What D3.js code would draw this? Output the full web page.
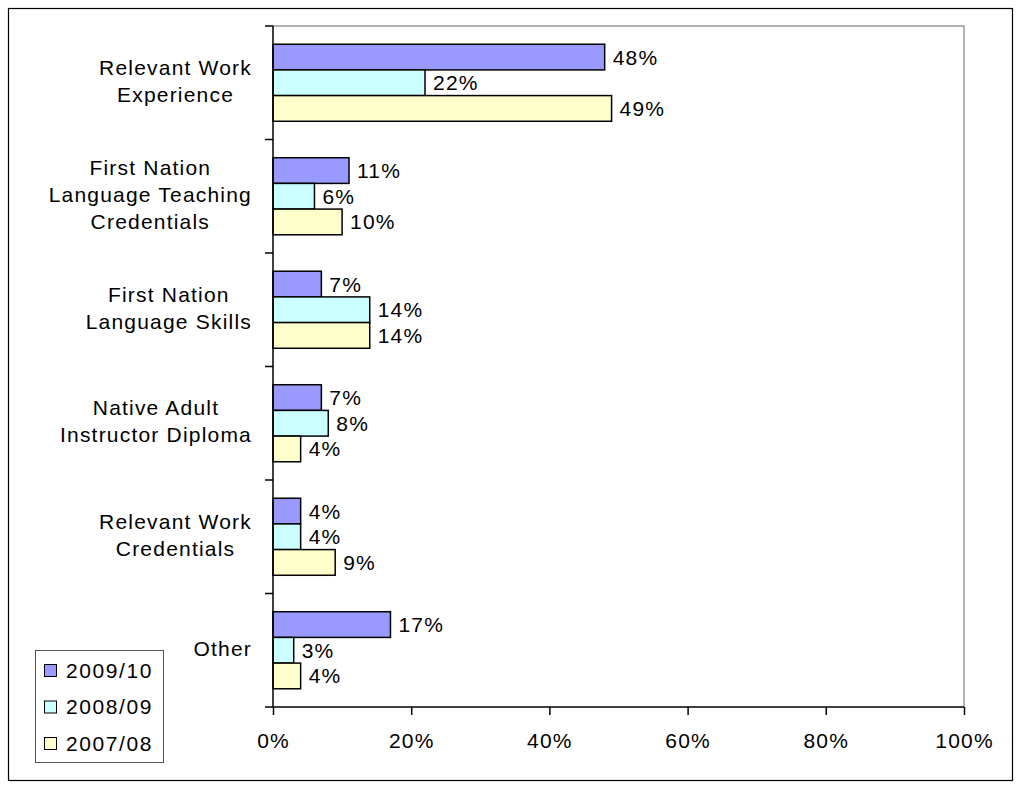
<!DOCTYPE html>
<html>
<head>
<meta charset="utf-8">
<script src="https://cdn.jsdelivr.net/npm/d3@7"></script>
<style>
    body { margin: 0; background: #fff; }
    text { font-family: "Liberation Sans", Arial, sans-serif; font-size: 21px; fill: #000; letter-spacing: 1.2px; }
</style>
</head>
<body>
<div class="module-graph"></div>
<script>
"use strict"

// data
const categories = [
    ["Relevant Work", "Experience"],
    ["First Nation", "Language Teaching", "Credentials"],
    ["First Nation", "Language Skills"],
    ["Native Adult", "Instructor Diploma"],
    ["Relevant Work", "Credentials"],
    ["Other"]
];
const seriesNames = ["2009/10", "2008/09", "2007/08"];
const seriesColors = ["#9999ff", "#ccffff", "#ffffcc"];
const values2009 = [48, 11, 7, 7, 4, 17];
const values2008 = [22, 6, 14, 8, 4, 3];
const values2007 = [49, 10, 14, 4, 9, 4];
const xTicks = [0, 20, 40, 60, 80, 100];

const series = [values2009, values2008, values2007];

let width = 1022,
    height = 786;
const plot = { left: 273, right: 964, top: 26, bottom: 707 };

const svg = d3.select("div.module-graph").append("svg")
    .attr("width", width)
    .attr("height", height);

// outer frame
svg.append("rect")
    .attr("x", 8.5).attr("y", 8.5)
    .attr("width", 1004).attr("height", 772)
    .attr("fill", "none")
    .attr("stroke", "#000")
    .attr("stroke-width", 1.2);

const scaleX = d3.scaleLinear()
    .domain([0, 100])
    .range([plot.left, plot.right]);

const scaleY = d3.scaleBand()
    .domain(d3.range(categories.length))
    .range([plot.top, plot.bottom]);

const inner = d3.scaleBand()
    .domain(d3.range(series.length))
    .range([0, scaleY.bandwidth()])
    .paddingOuter(0.71)
    .paddingInner(0);

// plot area border (top and right, grey)
svg.append("path")
    .attr("d", `M${plot.left},${plot.top}H${plot.right}V${plot.bottom}`)
    .attr("fill", "none")
    .attr("stroke", "#999")
    .attr("stroke-width", 1.5);

// bars
series.forEach((vals, s) => {
    svg.append("g").selectAll("rect")
        .data(vals)
        .join("rect")
        .attr("x", scaleX(0))
        .attr("y", (d, i) => scaleY(i) + inner(s))
        .attr("width", d => scaleX(d) - scaleX(0))
        .attr("height", inner.bandwidth())
        .attr("fill", seriesColors[s])
        .attr("stroke", "#000")
        .attr("stroke-width", 1.5);

    svg.append("g").selectAll("text")
        .data(vals)
        .join("text")
        .attr("x", d => scaleX(d) + 8)
        .attr("y", (d, i) => scaleY(i) + inner(s) + inner.bandwidth() / 2)
        .attr("dy", "0.36em")
        .text(d => d + "%");
});

// x axis
const xAxis = d3.axisBottom(scaleX)
    .tickValues(xTicks)
    .tickSize(8)
    .tickFormat(d => d + "%");
const gx = svg.append("g")
    .attr("transform", "translate(0," + plot.bottom + ")")
    .call(xAxis);
gx.select(".domain").attr("d", `M${plot.left - 8},0H${plot.right}`);
gx.selectAll("line, path").attr("stroke", "#000").attr("stroke-width", 1.5);
gx.selectAll("text").attr("y", 26).attr("dy", "0.71em").attr("fill", "#000");
gx.attr("font-family", null).attr("font-size", null);

// y axis: line with ticks at category boundaries
const yAxis = svg.append("g");
yAxis.append("line")
    .attr("x1", plot.left).attr("x2", plot.left)
    .attr("y1", plot.top).attr("y2", plot.bottom)
    .attr("stroke", "#000").attr("stroke-width", 1.5);
yAxis.selectAll("line.tick")
    .data(d3.range(categories.length))
    .join("line")
    .attr("class", "tick")
    .attr("x1", plot.left - 8).attr("x2", plot.left)
    .attr("y1", i => scaleY(i))
    .attr("y2", i => scaleY(i))
    .attr("stroke", "#000").attr("stroke-width", 1.5);

// category labels: block right-aligned, lines centred inside the block
const lineH = 27;
const labelRight = 252;
categories.forEach((lines, i) => {
    const cy = scaleY(i) + scaleY.bandwidth() / 2 - 2;
    const t = svg.append("text")
        .attr("text-anchor", "middle");
    const spans = lines.map((ln, k) => t.append("tspan")
        .attr("y", cy + (k - (lines.length - 1) / 2) * lineH)
        .attr("dy", "0.36em")
        .text(ln));
    const maxW = d3.max(spans, sp => sp.node().getComputedTextLength());
    spans.forEach(sp => sp.attr("x", labelRight - maxW / 2));
});

// legend
const legend = svg.append("g");
legend.append("rect")
    .attr("x", 35.5).attr("y", 650.5)
    .attr("width", 128).attr("height", 112)
    .attr("fill", "#fff")
    .attr("stroke", "#555")
    .attr("stroke-width", 1);
seriesNames.forEach((name, s) => {
    const y = 670 + s * 36.5;
    legend.append("rect")
        .attr("x", 44.5).attr("y", y - 5.5)
        .attr("width", 12).attr("height", 12)
        .attr("fill", seriesColors[s])
        .attr("stroke", "#000")
        .attr("stroke-width", 1);
    legend.append("text")
        .attr("x", 66)
        .attr("y", y)
        .attr("dy", "0.36em")
        .style("letter-spacing", "1.6px")
        .text(name);
});
</script>
</body>
</html>
